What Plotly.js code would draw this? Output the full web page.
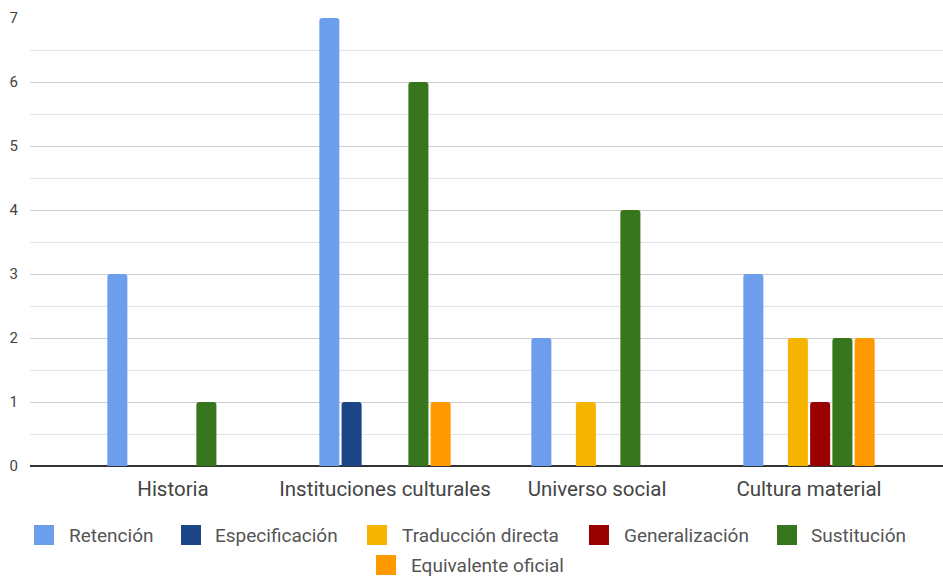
<!DOCTYPE html>
<html>
<head>
<meta charset="utf-8">
<script src="https://cdn.plot.ly/plotly-3.0.1.min.js"></script>
<style>html,body{margin:0;padding:0;background:#fff;}#chart{width:943px;height:576px;}</style>
</head>
<body>
<div id="chart"></div>
<script>
const categories = ["Historia", "Instituciones culturales", "Universo social", "Cultura material"];
const seriesNames = ["Retención", "Especificación", "Traducción directa", "Generalización", "Sustitución", "Equivalente oficial"];
const seriesColors = ["#6d9eeb", "#1c4587", "#f4b400", "#990000", "#38761d", "#ff9900"];
const retencion = [3, 7, 2, 3];
const especificacion = [0, 1, 0, 0];
const traduccionDirecta = [0, 0, 1, 2];
const generalizacion = [0, 0, 0, 1];
const sustitucion = [1, 6, 4, 2];
const equivalenteOficial = [0, 1, 0, 2];
const seriesValues = [retencion, especificacion, traduccionDirecta, generalizacion, sustitucion, equivalenteOficial];
const yTicks = [0, 1, 2, 3, 4, 5, 6, 7];

// layout geometry (pixels)
const W = 943, H = 576;
const mL = 30, mR = 0, mT = 18, mB = 110;
const plotW = W - mL - mR, plotH = H - mT - mB;
const px2x = p => (p - mL) / plotW;
const py2y = p => (H - mB - p) / plotH;

const traces = seriesNames.map((name, i) => ({
  type: 'bar',
  name: name,
  x: categories,
  y: seriesValues[i],
  marker: {color: seriesColors[i]},
  showlegend: false,
  hoverinfo: 'x+y+name'
}));

// manual legend (Google Sheets style)
const legendItems = [
  {sq: 34, tx: 67, row: 535},
  {sq: 181, tx: 213, row: 535},
  {sq: 367, tx: 400, row: 535},
  {sq: 589, tx: 622, row: 535},
  {sq: 777, tx: 809, row: 535},
  {sq: 376, tx: 409, row: 565}
];
const shapes = [];
const annotations = [];
seriesNames.forEach((name, i) => {
  const it = legendItems[i];
  shapes.push({
    type: 'rect', xref: 'paper', yref: 'paper',
    x0: px2x(it.sq), x1: px2x(it.sq + 20),
    y0: py2y(it.row + 10), y1: py2y(it.row - 10),
    fillcolor: seriesColors[i], line: {width: 0}
  });
  annotations.push({
    xref: 'paper', yref: 'paper', x: px2x(it.tx), y: py2y(it.row),
    xanchor: 'left', yanchor: 'middle', showarrow: false,
    text: name, font: {family: 'Roboto, sans-serif', size: 19, color: '#555555'}
  });
});

const layout = {
  width: W, height: H,
  margin: {l: mL, r: mR, t: mT, b: mB},
  paper_bgcolor: '#ffffff', plot_bgcolor: '#ffffff',
  font: {family: 'Roboto, sans-serif', color: '#444444'},
  barmode: 'group',
  bargap: 0.37,
  bargroupgap: 0.1,
  barcornerradius: 3,
  xaxis: {
    type: 'category',
    range: [-0.6745, 3.632],
    showgrid: false, showline: false, zeroline: false,
    ticks: 'outside', ticklen: 4, tickcolor: 'rgba(0,0,0,0)',
    tickfont: {family: 'Roboto, sans-serif', size: 20.5, color: '#444444'}
  },
  yaxis: {
    range: [0, 7],
    tickvals: yTicks,
    ticktext: yTicks.map(String),
    showgrid: true, gridcolor: '#cccccc', gridwidth: 1,
    minor: {tickmode: 'linear', tick0: 0.5, dtick: 1, showgrid: true, gridcolor: '#e3e3e3', gridwidth: 1},
    zeroline: true, zerolinecolor: '#333333', zerolinewidth: 1.5,
    showline: false,
    ticks: 'outside', ticklen: 8, tickcolor: 'rgba(0,0,0,0)',
    tickfont: {family: 'Roboto, sans-serif', size: 15, color: '#444444'}
  },
  shapes: shapes,
  annotations: annotations
};

Plotly.newPlot('chart', traces, layout, {displayModeBar: false, staticPlot: true});
</script>
</body>
</html>
